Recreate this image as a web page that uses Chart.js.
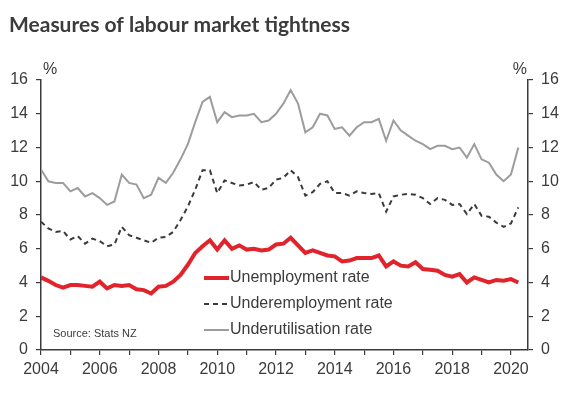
<!DOCTYPE html>
<html>
<head>
<meta charset="utf-8">
<script src="https://cdn.jsdelivr.net/npm/chart.js@4.4.1/dist/chart.umd.min.js"></script>
<style>
  html, body { margin: 0; padding: 0; background: #fff; }
  #wrap { position: relative; width: 573px; height: 397px; }
</style>
</head>
<body>
<div id="wrap"><canvas id="chart" width="573" height="397"></canvas></div>
<script>
// Quarterly data, March 2004 quarter to June 2020 quarter
const startYear = 2004;
const quarterCount = 66;
const quarters = [];
for (let i = 0; i < quarterCount; i++) {
    quarters.push((startYear + Math.floor(i / 4)) + ' Q' + (i % 4 + 1));
}

const unemployment = [
    4.3, 4.1, 3.85, 3.7, 3.85, 3.85, 3.8, 3.75, 4.05, 3.65, 3.85, 3.8, 3.85, 3.6, 3.55, 3.35,
    3.75, 3.8, 4.05, 4.45, 5.05, 5.75, 6.15, 6.5, 5.95, 6.5, 6.0, 6.2, 5.95, 6.0, 5.9, 5.95,
    6.25, 6.3, 6.65, 6.2, 5.75, 5.9, 5.75, 5.6, 5.55, 5.25, 5.3, 5.45, 5.45, 5.45, 5.6, 4.95,
    5.25, 5.0, 4.95, 5.2, 4.8, 4.75, 4.7, 4.45, 4.35, 4.5, 4.0, 4.3, 4.15, 4.0, 4.15, 4.1,
    4.2, 4.0
];
const underemployment = [
    7.6, 7.2, 7.0, 7.05, 6.55, 6.75, 6.3, 6.6, 6.45, 6.15, 6.25, 7.3, 6.8, 6.65, 6.5, 6.35,
    6.65, 6.7, 7.0, 7.7, 8.5, 9.5, 10.65, 10.65, 9.3, 10.05, 9.9, 9.75, 9.8, 9.95, 9.5, 9.6,
    10.1, 10.2, 10.65, 10.25, 9.15, 9.35, 9.85, 10.0, 9.3, 9.3, 9.15, 9.4, 9.3, 9.25, 9.3, 8.2,
    9.1, 9.2, 9.25, 9.2, 9.0, 8.65, 9.0, 8.9, 8.6, 8.65, 8.05, 8.65, 7.95, 7.9, 7.55, 7.3,
    7.5, 8.45
];
const underutilisation = [
    10.7, 10.0, 9.9, 9.9, 9.4, 9.6, 9.1, 9.3, 9.0, 8.6, 8.8, 10.4, 9.9, 9.8, 9.0, 9.2,
    10.2, 9.9, 10.5, 11.3, 12.2, 13.5, 14.7, 15.0, 13.5, 14.1, 13.8, 13.9, 13.9, 14.0, 13.5, 13.6,
    14.0, 14.6, 15.4, 14.6, 12.9, 13.2, 14.0, 13.9, 13.1, 13.2, 12.7, 13.2, 13.5, 13.5, 13.7, 12.4,
    13.6, 13.0, 12.7, 12.4, 12.2, 11.9, 12.1, 12.1, 11.9, 12.0, 11.4, 12.2, 11.3, 11.1, 10.4, 10.0,
    10.4, 12.0
];

const yTicks = [0, 2, 4, 6, 8, 10, 12, 14, 16];
const xTickLabels = ['2004', '2006', '2008', '2010', '2012', '2014', '2016', '2018', '2020'];
const seriesNames = ['Unemployment rate', 'Underemployment rate', 'Underutilisation rate'];

const RED = '#e1232b';
const DARK = '#3a3a3a';
const GREY = '#9c9c9c';
const TEXT = '#3b3b3b';

// quarter label -> decimal year position
function quarterToX(q) {
    const parts = q.split(' Q');
    return Number(parts[0]) + (Number(parts[1]) - 1) / 4;
}
function toPoints(values) {
    return values.map((v, i) => ({ x: quarterToX(quarters[i]), y: v }));
}

const overlayPlugin = {
    id: 'overlay',
    afterDraw(chart) {
        const ctx = chart.ctx;
        const area = chart.chartArea;
        ctx.save();

        // title
        ctx.fillStyle = TEXT;
        ctx.font = 'bold 21px Lato';
        ctx.textBaseline = 'alphabetic';
        ctx.textAlign = 'left';
        ctx.fillText('Measures of labour market tightness', 9, 32);

        // % unit labels
        ctx.font = '16px "Liberation Sans", Arial, sans-serif';
        ctx.textBaseline = 'middle';
        ctx.fillText('%', area.left + 2, 70);
        ctx.textAlign = 'right';
        ctx.fillText('%', area.right - 1, 70);

        // legend
        const rows = [278, 304, 330];
        chart.data.datasets.forEach((ds, i) => {
            const y = rows[i];
            ctx.beginPath();
            ctx.strokeStyle = ds.borderColor;
            ctx.lineWidth = ds.borderWidth;
            ctx.setLineDash(ds.borderDash || []);
            ctx.moveTo(204, y);
            ctx.lineTo(229, y);
            ctx.stroke();
            ctx.setLineDash([]);
            ctx.fillStyle = TEXT;
            ctx.textAlign = 'left';
            ctx.fillText(seriesNames[i], 230, y);
        });

        // source
        ctx.font = '11px "Liberation Sans", Arial, sans-serif';
        ctx.fillText('Source: Stats NZ', 53, 334);
        ctx.restore();
    }
};

const axisFont = { family: '"Liberation Sans", Arial, sans-serif', size: 16 };

new Chart(document.getElementById('chart'), {
    type: 'line',
    data: {
        datasets: [
            {
                label: seriesNames[0],
                data: toPoints(unemployment),
                borderColor: RED,
                borderWidth: 4,
                pointRadius: 0,
                tension: 0,
                fill: false
            },
            {
                label: seriesNames[1],
                data: toPoints(underemployment),
                borderColor: DARK,
                borderWidth: 2,
                borderDash: [5, 4],
                pointRadius: 0,
                tension: 0,
                fill: false
            },
            {
                label: seriesNames[2],
                data: toPoints(underutilisation),
                borderColor: GREY,
                borderWidth: 2,
                pointRadius: 0,
                tension: 0,
                fill: false
            }
        ]
    },
    options: {
        responsive: false,
        animation: false,
        layout: { padding: { top: 80, left: 0, right: 0, bottom: 0 } },
        plugins: {
            legend: { display: false },
            tooltip: { enabled: false },
            title: { display: false }
        },
        scales: {
            x: {
                type: 'linear',
                min: 2004,
                max: 2020.58,
                afterFit: (scale) => { scale.height = 47; },
                border: { display: true, color: DARK, width: 1.5 },
                grid: { drawOnChartArea: false, drawTicks: true, tickLength: 5, color: DARK, lineWidth: 1.2 },
                ticks: {
                    stepSize: 1,
                    includeBounds: false,
                    autoSkip: false,
                    maxRotation: 0,
                    padding: 5,
                    color: TEXT,
                    font: axisFont,
                    callback: (v) => xTickLabels.includes(String(v)) ? String(v) : ''
                }
            },
            y: {
                position: 'left',
                min: 0,
                max: 16,
                afterFit: (scale) => { scale.width = 41; },
                afterBuildTicks: (scale) => { scale.ticks = yTicks.map(v => ({ value: v })); },
                border: { display: true, color: DARK, width: 1.5 },
                grid: { drawOnChartArea: false, drawTicks: true, tickLength: 5, color: DARK, lineWidth: 1.2 },
                ticks: { padding: 8, color: TEXT, font: axisFont }
            },
            y1: {
                position: 'right',
                min: 0,
                max: 16,
                afterFit: (scale) => { scale.width = 45; },
                afterBuildTicks: (scale) => { scale.ticks = yTicks.map(v => ({ value: v })); },
                border: { display: true, color: DARK, width: 1.5 },
                grid: { drawOnChartArea: false, drawTicks: true, tickLength: 5, color: DARK, lineWidth: 1.2 },
                ticks: { padding: 8, color: TEXT, font: axisFont }
            }
        }
    },
    plugins: [overlayPlugin]
});
</script>
</body>
</html>
